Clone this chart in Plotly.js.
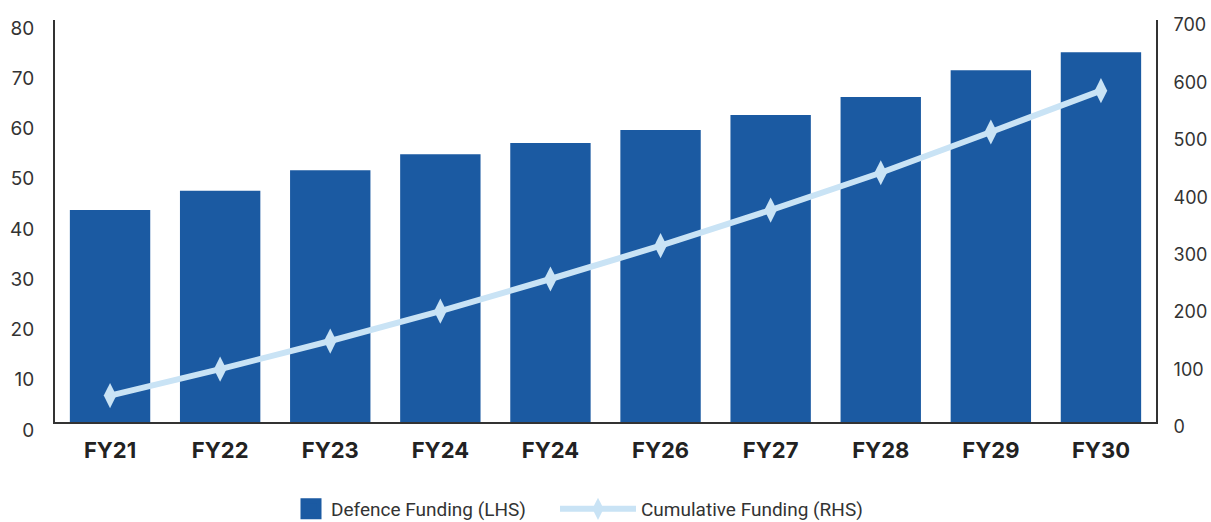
<!DOCTYPE html>
<html>
<head>
<meta charset="utf-8">
<script src="https://cdn.plot.ly/plotly-3.0.1.min.js"></script>
<style>html,body{margin:0;padding:0;background:#fff;}#chart{width:1211px;height:522px;}</style>
</head>
<body>
<div id="chart"></div>
<script>
const categories = ["FY21","FY22","FY23","FY24","FY24","FY26","FY27","FY28","FY29","FY30"];
const defenceFunding = [42.2, 46.0, 50.1, 53.3, 55.5, 58.1, 61.1, 64.7, 70.0, 73.6];
const cumulativeFunding = [46, 92, 141, 193, 249, 307, 369, 434, 505, 577];
const leftTicks = [0,10,20,30,40,50,60,70,80];
const rightTicks = [0,100,200,300,400,500,600,700];

const xpos = categories.map((c, i) => i);
const barColor = '#1B5AA2';
const lineColor = '#C9E3F5';

const traces = [
  {
    type: 'bar', name: 'Defence Funding (LHS)',
    x: xpos, y: defenceFunding, yaxis: 'y',
    marker: {color: barColor},
    showlegend: false, legendgroup: 'bar',
    hoverinfo: 'y'
  },
  {
    // legend entry for the bars (larger square swatch)
    type: 'scatter', mode: 'markers', name: 'Defence Funding (LHS)',
    x: [null], y: [null], yaxis: 'y',
    marker: {symbol: 'square', size: 16, color: barColor, line: {color: barColor, width: 5}},
    legend: 'legend', legendgroup: 'bar', hoverinfo: 'skip'
  },
  {
    type: 'scatter', mode: 'lines+markers', name: 'Cumulative Funding (RHS)',
    x: xpos, y: cumulativeFunding, yaxis: 'y2',
    line: {color: lineColor, width: 6},
    marker: {symbol: 'diamond-tall', size: 18, color: lineColor},
    legend: 'legend2',
    hoverinfo: 'y'
  }
];

const legendFont = {size: 19, color: '#333', family: 'Roboto, sans-serif'};

const layout = {
  width: 1211, height: 522,
  margin: {l: 55, r: 55, t: 20, b: 100},
  paper_bgcolor: '#fff', plot_bgcolor: '#fff',
  font: {family: 'Inter, Roboto, sans-serif', color: '#333'},
  bargap: 0.27,
  showlegend: true,
  legend: {
    orientation: 'h', xref: 'container', yref: 'container',
    x: 291 / 1211, xanchor: 'left', y: 13 / 522, yanchor: 'middle',
    font: legendFont, itemwidth: 30
  },
  legend2: {
    orientation: 'h', xref: 'container', yref: 'container',
    x: 555 / 1211, xanchor: 'left', y: 13 / 522, yanchor: 'middle',
    font: legendFont, itemwidth: 76
  },
  xaxis: {
    range: [-0.5, 9.5],
    tickmode: 'array', tickvals: xpos, ticktext: categories,
    tickfont: {size: 22, color: '#222', family: 'Inter, Roboto, sans-serif', weight: 'bold'},
    showline: true, linecolor: '#333', linewidth: 2,
    showgrid: false, zeroline: false, ticks: '',
    ticklabelstandoff: 8
  },
  yaxis: {
    range: [0, 80],
    tickmode: 'array', tickvals: leftTicks,
    tickfont: {size: 19, color: '#333'},
    showline: true, linecolor: '#333', linewidth: 2,
    showgrid: false, zeroline: false, ticks: '',
    ticklabelstandoff: 15, ticklabelshift: 8
  },
  yaxis2: {
    range: [0, 700], overlaying: 'y', side: 'right',
    tickmode: 'array', tickvals: rightTicks,
    tickfont: {size: 18, color: '#333'},
    showline: true, linecolor: '#333', linewidth: 2,
    showgrid: false, zeroline: false, ticks: '',
    ticklabelstandoff: 12, ticklabelshift: 5
  }
};

Plotly.newPlot('chart', traces, layout, {displayModeBar: false, staticPlot: true});
</script>
</body>
</html>
